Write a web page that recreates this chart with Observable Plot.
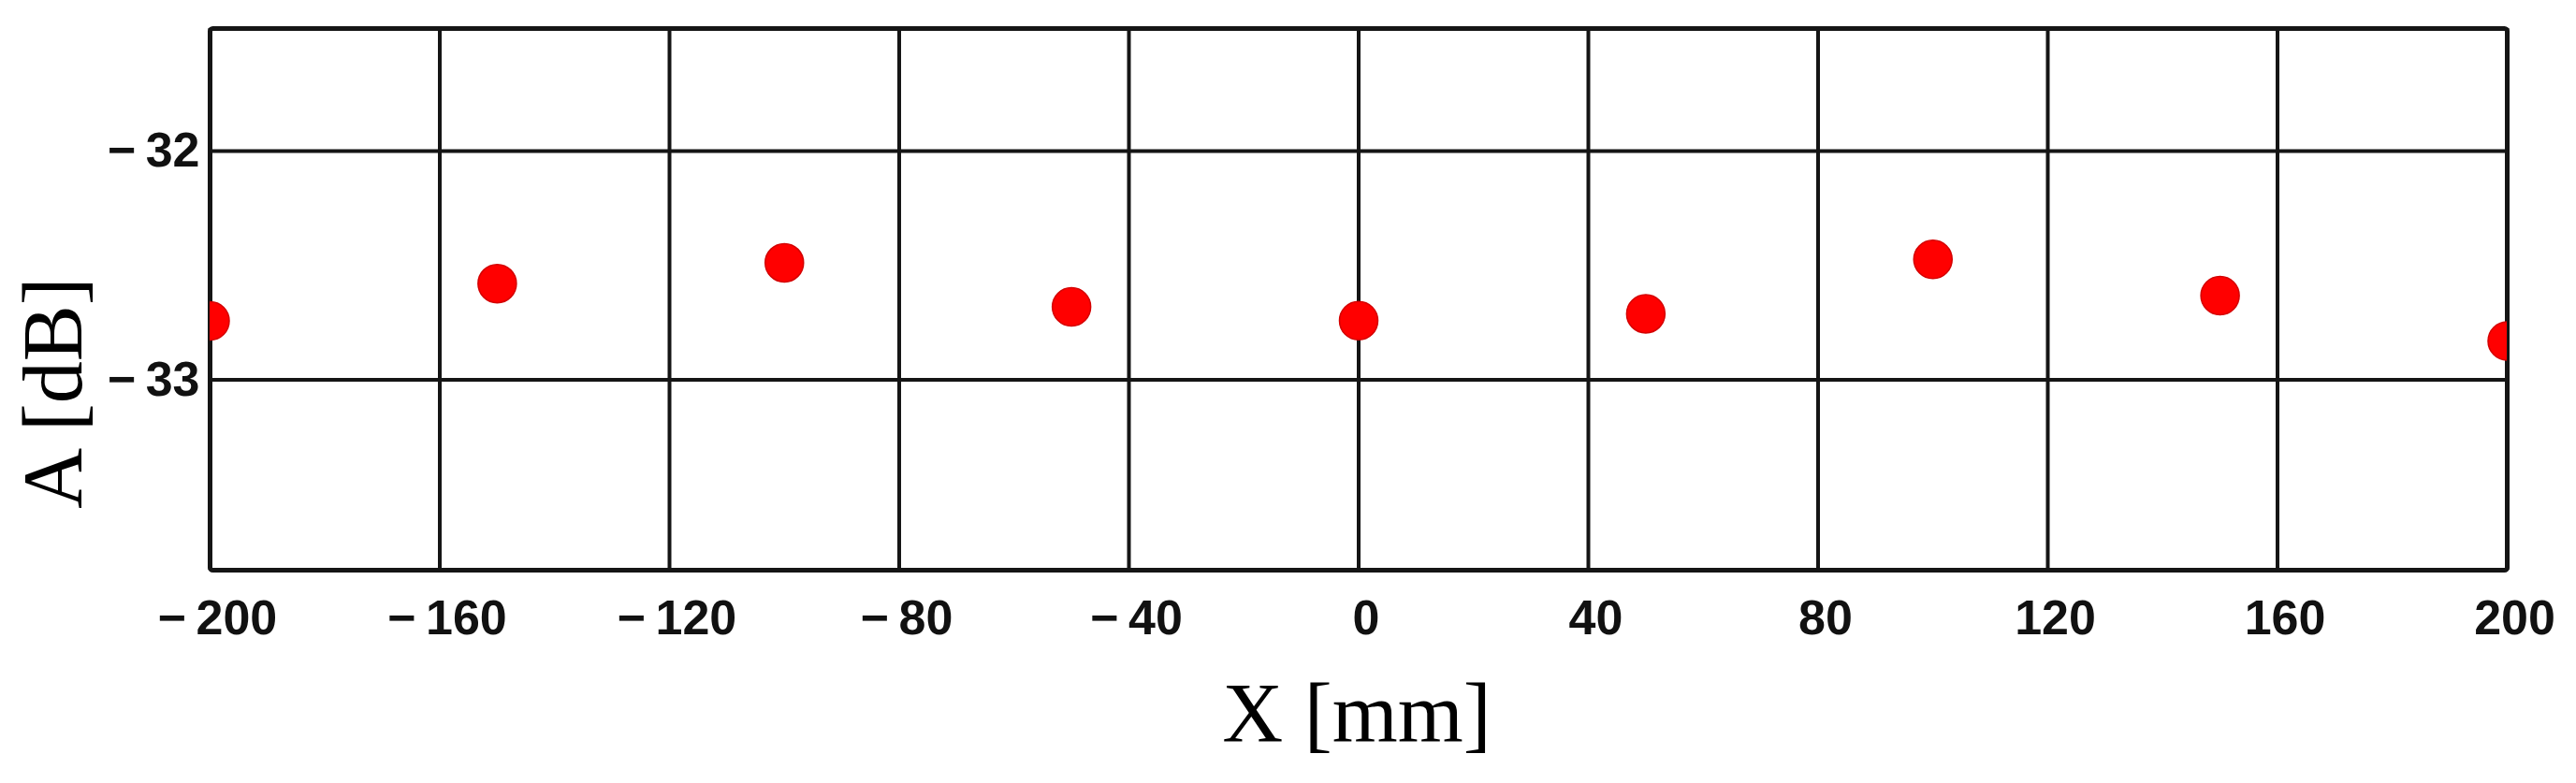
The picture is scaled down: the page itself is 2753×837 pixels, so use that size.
<!DOCTYPE html>
<html>
<head>
<meta charset="utf-8">
<script src="https://cdn.jsdelivr.net/npm/d3@7"></script>
<script src="https://cdn.jsdelivr.net/npm/@observablehq/plot@0.6"></script>
<style>
  html, body { margin: 0; padding: 0; background: #fff; }
  #chart svg { display: block; }
</style>
</head>
<body>
<div id="chart"></div>
<script>
// Data
const positions = [-200, -150, -100, -50, 0, 50, 100, 150, 200];       // X [mm]
const amplitudes = [-32.742, -32.579, -32.488, -32.681, -32.741, -32.711, -32.473, -32.632, -32.83]; // A [dB]

// Axis ticks
const xTicks = [-200, -160, -120, -80, -40, 0, 40, 80, 120, 160, 200];
const yTicks = [-32, -33];
const yDomain = [-33.832, -31.464];
const xLabel = "X [mm]";
const yLabel = "A [dB]";

const data = positions.map((x, i) => ({x, a: amplitudes[i]}));
const fmt = d => d < 0 ? "\u2212\u2009" + Math.abs(d) : String(d);

const tickFont = {fontSize: 52, fontWeight: "bold", fontFamily: "'Liberation Sans', Arial, sans-serif", fill: "#111"};

const chart = Plot.plot({
  width: 2753,
  height: 837,
  marginLeft: 224,
  marginRight: 74,
  marginTop: 30,
  marginBottom: 228,
  style: {background: "#fff", color: "#111"},
  x: {domain: [-200, 200]},
  y: {domain: yDomain},
  marks: [
    Plot.gridX(xTicks, {stroke: "#151515", strokeOpacity: 1, strokeWidth: 4}),
    Plot.gridY(yTicks, {stroke: "#151515", strokeOpacity: 1, strokeWidth: 4}),
    Plot.frame({stroke: "#151515", strokeWidth: 5, rx: 3}),
    Plot.axisX(xTicks, {tickSize: 0, tickPadding: 32, tickFormat: fmt, label: null, dx: 8, ...tickFont}),
    Plot.axisY(yTicks, {tickSize: 0, tickPadding: 11, tickFormat: fmt, label: null, ...tickFont}),
    Plot.dot(data, {x: "x", y: "a", r: 20.5, fill: "#ff0000", stroke: "#d40000", strokeWidth: 1.5, clip: true}),
    Plot.text([xLabel], {frameAnchor: "bottom", dx: -2, dy: 155, lineAnchor: "middle", textAnchor: "middle",
      fontSize: 90, fontFamily: "'Liberation Serif', 'Times New Roman', serif", fill: "#000"}),
    Plot.text([yLabel], {frameAnchor: "left", rotate: -90, dx: -166, dy: 100, lineAnchor: "middle", textAnchor: "middle",
      fontSize: 90, fontFamily: "'Liberation Serif', 'Times New Roman', serif", fill: "#000"})
  ]
});
document.getElementById("chart").append(chart);
</script>
</body>
</html>
